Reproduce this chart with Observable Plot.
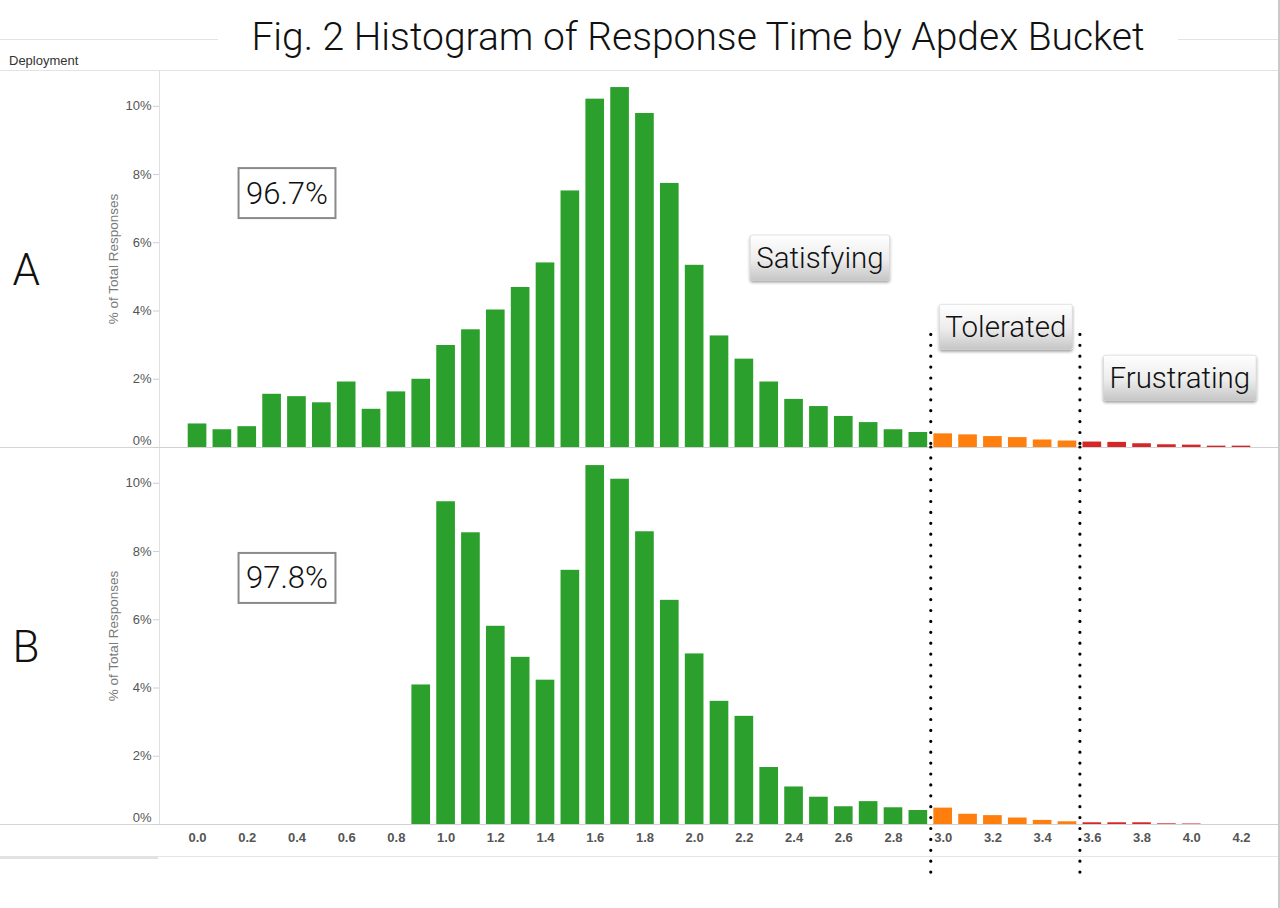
<!DOCTYPE html>
<html>
<head>
<meta charset="utf-8">
<script src="https://cdn.jsdelivr.net/npm/d3@7"></script>
<script src="https://cdn.jsdelivr.net/npm/@observablehq/plot@0.6"></script>
<style>
  html, body { margin: 0; padding: 0; background: #fff; overflow: hidden; }
  #page { position: relative; width: 1280px; height: 908px; font-family: "Liberation Sans", Arial, sans-serif; }
  .hline { position: absolute; height: 0; border-top: 1px solid #e3e3e3; }
  #title { position: absolute; left: 218px; width: 960px; top: 12px; height: 50px; line-height: 50px;
           text-align: center; background: #fff; font-family: Roboto, "Open Sans", sans-serif; font-weight: 300;
           font-size: 39px; color: #111; white-space: nowrap; }
  #deploy { position: absolute; left: 9px; top: 53px; font-size: 13px; color: #333; }
  #chart { position: absolute; left: 0; top: 70px; }
  #redge { position: absolute; left: 1278px; top: 0; width: 2px; height: 908px; background: #c9c9c9; }
</style>
</head>
<body>
<div id="page">
  <div class="hline" style="left:0;width:1280px;top:39px;"></div>
  <div id="title">Fig. 2 Histogram of Response Time by Apdex Bucket</div>
  <div id="deploy">Deployment</div>
  <div class="hline" style="left:0;width:1280px;top:70px;"></div>
  <div class="hline" style="left:0;width:159px;top:447px;border-color:#d6d6d6;"></div>
  <div class="hline" style="left:0;width:159px;top:824px;border-color:#d6d6d6;"></div>
  <div class="hline" style="left:0;width:1280px;top:856px;border-color:#e6e6e6;"></div>
  <div style="position:absolute;left:0;width:158px;top:856px;height:3px;background:#e2e2e2;"></div>
  <div id="chart"></div>
  <div id="redge"></div>
</div>
<script>
// ---- data ----
const deployments = ["A", "B"];
const bins = [0.0,0.1,0.2,0.3,0.4,0.5,0.6,0.7,0.8,0.9,
              1.0,1.1,1.2,1.3,1.4,1.5,1.6,1.7,1.8,1.9,
              2.0,2.1,2.2,2.3,2.4,2.5,2.6,2.7,2.8,2.9,
              3.0,3.1,3.2,3.3,3.4,3.5,3.6,3.7,3.8,3.9,
              4.0,4.1,4.2];
const pctA = [0.69,0.52,0.61,1.56,1.49,1.31,1.92,1.12,1.63,2.00,
              2.99,3.45,4.03,4.69,5.41,7.52,10.21,10.55,9.79,7.74,
              5.34,3.27,2.59,1.92,1.41,1.20,0.91,0.73,0.52,0.44,
              0.40,0.37,0.32,0.29,0.22,0.19,0.16,0.15,0.11,0.08,
              0.07,0.04,0.04];
const pctB = [null,null,null,null,null,null,null,null,null,4.09,
              9.46,8.55,5.81,4.90,4.23,7.45,10.52,10.12,8.58,6.57,
              5.00,3.61,3.17,1.67,1.10,0.80,0.52,0.67,0.49,0.41,
              0.48,0.30,0.26,0.19,0.12,0.08,0.05,0.05,0.05,0.02,
              0.015,null,null];
const buckets = ["Satisfying", "Tolerated", "Frustrating"];
const bucketColors = ["#2ca02c", "#ff7f0e", "#d62728"];
const bucketEdges = [2.95, 3.55];          // boundaries between buckets (s)
const binWidth = 0.1;
const yTicks = [0, 2, 4, 6, 8, 10];
const xTicks = [0.0,0.2,0.4,0.6,0.8,1.0,1.2,1.4,1.6,1.8,2.0,2.2,2.4,2.6,2.8,3.0,3.2,3.4,3.6,3.8,4.0,4.2];
const xDomain = [-0.153, 4.353];
const yDomain = [0, 11.05];
const satisfiedShare = [{deployment: "A", text: "96.7%", x: 0.36, y: 7.44},
                        {deployment: "B", text: "97.8%", x: 0.36, y: 7.21}];
const callouts = [{deployment: "A", text: "Satisfying", x: 2.504, y: 5.55},
                  {deployment: "A", text: "Tolerated", x: 3.252, y: 3.52},
                  {deployment: "A", text: "Frustrating", x: 3.952, y: 2.03}];
const dividerSpan = [{deployment: "A", top: 3.3, bottom: 0},
                     {deployment: "B", top: 11.05, bottom: -1.5}];

// ---- table ----
const bucketOf = b => b < bucketEdges[0] ? buckets[0] : b < bucketEdges[1] ? buckets[1] : buckets[2];
const rows = [];
[pctA, pctB].forEach((series, i) => {
  series.forEach((v, j) => {
    if (v != null) rows.push({deployment: deployments[i], bin: bins[j], value: v, bucket: bucketOf(bins[j])});
  });
});
const dividers = dividerSpan.flatMap(s => bucketEdges.map(e => ({deployment: s.deployment, x: e, y1: s.top, y2: s.bottom})));

const lightFont = "Roboto, 'Open Sans', sans-serif";

const chart = Plot.plot({
  width: 1280,
  height: 838,
  marginTop: 0,
  marginLeft: 159,
  marginRight: 1,
  marginBottom: 84,
  style: {fontFamily: "'Liberation Sans', Arial, sans-serif", overflow: "visible", background: "transparent"},
  x: {domain: xDomain},
  y: {domain: yDomain},
  fy: {domain: deployments, padding: 0, axis: null},
  color: {domain: buckets, range: bucketColors},
  marks: [
    Plot.ruleX([xDomain[0]], {stroke: "#e0e0e0"}),
    Plot.ruleY([0], {stroke: "#d2d2d2"}),
    Plot.axisY({ticks: yTicks, tickSize: 6, tickPadding: 2, stroke: "#cfcfcf", fill: "#555", fontSize: 13,
                tickFormat: d => d === 0 ? "" : d + "%", label: null}),
    Plot.text(deployments, {fy: d => d, y: () => 0, frameAnchor: "left", dx: -8, dy: -7, textAnchor: "end",
                text: () => "0%", fill: "#555", fontSize: 13}),
    Plot.axisX({ticks: xTicks, tickSize: 0, tickPadding: 8, tickFormat: d => d.toFixed(1),
                fontWeight: "bold", fontSize: 13, fill: "#555", label: null}),
    Plot.text(deployments, {fy: d => d, text: d => d, frameAnchor: "left", dx: -147, dy: 12,
                textAnchor: "start", fontSize: 44, fontWeight: 300, fontFamily: lightFont, fill: "#111"}),
    Plot.text(deployments, {fy: d => d, text: () => "% of Total Responses", frameAnchor: "left", dx: -46,
                textAnchor: "middle", rotate: -90, fontSize: 13.5, fill: "#7a7a7a"}),
    Plot.rectY(rows, {x1: d => d.bin - binWidth / 2, x2: d => d.bin + binWidth / 2, y: "value",
                fy: "deployment", fill: "bucket", insetLeft: 3.1, insetRight: 3.1}),
    Plot.ruleX(dividers, {x: "x", y1: "y1", y2: "y2", fy: "deployment", stroke: "#000", strokeWidth: 3.2,
                strokeDasharray: "0 10.9", strokeLinecap: "round", clip: false}),
    Plot.text(satisfiedShare, {x: "x", y: "y", fy: "deployment", text: "text", fontSize: 31, fontWeight: 300,
                fontFamily: lightFont, fill: "#111"}),
    Plot.text(callouts, {x: "x", y: "y", fy: "deployment", text: "text", fontSize: 29.5, fontWeight: 300,
                fontFamily: lightFont, fill: "#111"})
  ]
});

document.getElementById("chart").appendChild(chart);

// ---- decorate annotation boxes ----
const ns = "http://www.w3.org/2000/svg";
const svg = chart.tagName.toLowerCase() === "svg" ? chart : chart.querySelector("svg");
const defs = d3.select(svg).insert("defs", ":first-child");
const grad = defs.append("linearGradient").attr("id", "calloutGrad").attr("x1", 0).attr("y1", 0).attr("x2", 0).attr("y2", 1);
grad.append("stop").attr("offset", "0%").attr("stop-color", "#ffffff");
grad.append("stop").attr("offset", "55%").attr("stop-color", "#ececec");
grad.append("stop").attr("offset", "100%").attr("stop-color", "#c6c6c6");
const filt = defs.append("filter").attr("id", "calloutShadow").attr("x", "-20%").attr("y", "-20%").attr("width", "140%").attr("height", "160%");
filt.append("feDropShadow").attr("dx", 0).attr("dy", 2).attr("stdDeviation", 1.6).attr("flood-color", "#000").attr("flood-opacity", 0.4);

function boxify(labels, padX, padY, attrs) {
  const set = new Set(labels);
  Array.from(svg.querySelectorAll("text")).filter(t => set.has(t.textContent)).forEach(t => {
    const b = t.getBBox();
    const r = document.createElementNS(ns, "rect");
    r.setAttribute("x", b.x - padX);
    r.setAttribute("y", b.y - padY);
    r.setAttribute("width", b.width + 2 * padX);
    r.setAttribute("height", b.height + 2 * padY);
    const tr = t.getAttribute("transform");
    if (tr) r.setAttribute("transform", tr);
    for (const k in attrs) r.setAttribute(k, attrs[k]);
    t.parentNode.insertBefore(r, t);
  });
}
boxify(satisfiedShare.map(d => d.text), 7.5, 6.5, {fill: "#fff", stroke: "#8a8a8a", "stroke-width": 2});
boxify(callouts.map(d => d.text), 6, 5.5, {fill: "url(#calloutGrad)", stroke: "#d0d0d0", "stroke-width": 0.6, rx: 2, filter: "url(#calloutShadow)"});
</script>
</body>
</html>
